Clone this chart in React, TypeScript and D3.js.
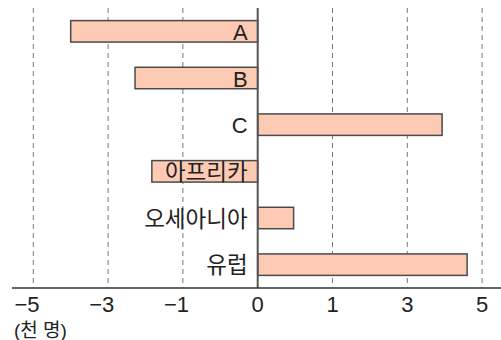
import React from "react";
import * as d3 from "d3";

const categories = ["A", "B", "C", "아프리카", "오세아니아", "유럽"];
const values = [-4.0, -2.28, 3.93, -1.83, 0.48, 4.6];
const tickValues = [-5, -3, -1, 0, 1, 3, 5];
const unitLabel = "(천 명)";

const W = 501;
const H = 340;
const FONT = "'Liberation Sans', 'Noto Sans CJK KR', sans-serif";

export default function App() {
  const x = d3
    .scaleLinear()
    .domain(tickValues)
    .range(tickValues.map((_, i) => 33.3 + i * 74.8));
  const y = d3
    .scaleBand<string>()
    .domain(categories)
    .range([8, 288])
    .paddingInner(0.54)
    .paddingOuter(0.27);
  const x0 = x(0);
  const axisY = 288;

  return (
    <svg
      width={W}
      height={H}
      style={{ position: "absolute", left: 0, top: 0, background: "#fff" }}
      fontFamily={FONT}
    >
      {tickValues
        .filter((t) => t !== 0)
        .map((t) => (
          <line
            key={"g" + t}
            x1={x(t)}
            x2={x(t)}
            y1={8}
            y2={axisY}
            stroke="#777"
            strokeWidth={1}
            strokeDasharray="5,4"
          />
        ))}
      {categories.map((c, i) => {
        const v = values[i];
        const bx = Math.min(x(v), x0);
        const bw = Math.abs(x(v) - x0);
        return (
          <rect
            key={c}
            x={bx}
            y={y(c)!}
            width={bw}
            height={y.bandwidth()}
            fill="#fdcbb3"
            stroke="#4a4a4a"
            strokeWidth={1.5}
          />
        );
      })}
      <line x1={x0} x2={x0} y1={8} y2={axisY} stroke="#555" strokeWidth={2} />
      <line x1={12} x2={W} y1={axisY} y2={axisY} stroke="#333" strokeWidth={1.5} />
      {categories.map((c) => (
        <text
          key={"l" + c}
          x={x0 - 10}
          y={y(c)! + y.bandwidth() / 2 + 1}
          textAnchor="end"
          dominantBaseline="central"
          fontSize={c.length > 1 ? 22.5 : 22}
          fill="#222"
        >
          {c}
        </text>
      ))}
      {tickValues.map((t) => (
        <g key={"t" + t}>
          <text
            x={x(t)}
            y={304}
            textAnchor="middle"
            dominantBaseline="central"
            fontSize={22}
            fill="#222"
          >
            {String(Math.abs(t))}
          </text>
          {t < 0 && (
            <text
              x={x(t) - 6}
              y={304}
              textAnchor="end"
              dominantBaseline="central"
              fontSize={22}
              fill="#222"
            >
              −
            </text>
          )}
        </g>
      ))}
      <text x={14} y={330} dominantBaseline="central" fontSize={19} fill="#222">
        {unitLabel}
      </text>
    </svg>
  );
}
